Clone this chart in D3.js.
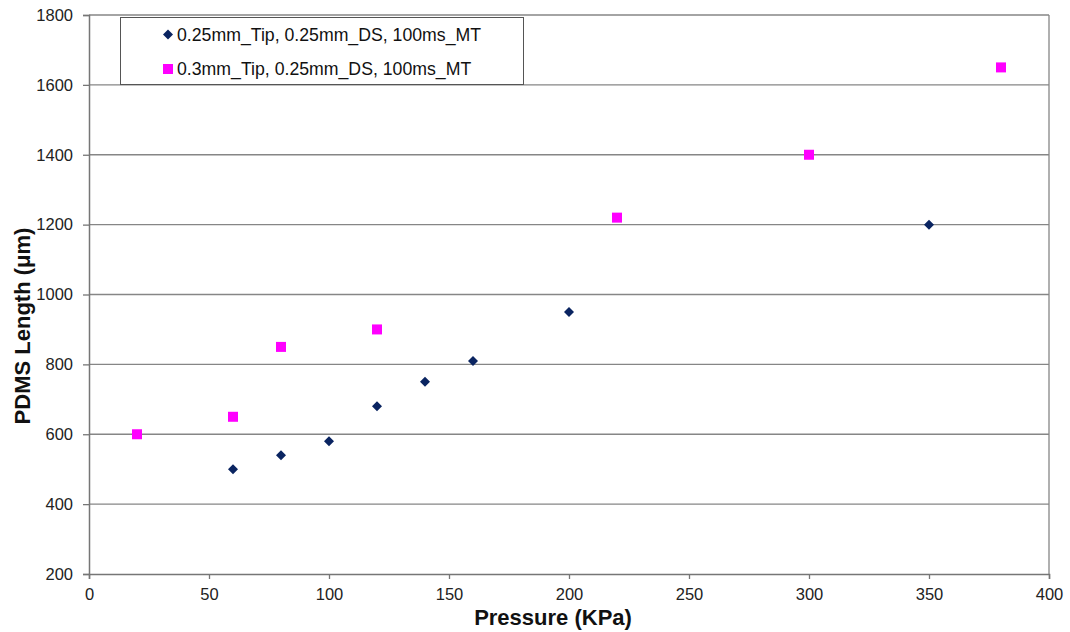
<!DOCTYPE html>
<html><head><meta charset="utf-8">
<script src="https://d3js.org/d3.v7.min.js"></script>
<style>
body{margin:0;background:#fff;}
svg{display:block;font-family:"Liberation Sans",Arial,sans-serif;}
</style></head>
<body>
<script>
const seriesNames = ["0.25mm_Tip, 0.25mm_DS, 100ms_MT", "0.3mm_Tip, 0.25mm_DS, 100ms_MT"];
const s1x = [60, 80, 100, 120, 140, 160, 200, 350];
const s1y = [500, 540, 580, 680, 750, 810, 950, 1200];
const s2x = [20, 60, 80, 120, 220, 300, 380];
const s2y = [600, 650, 850, 900, 1220, 1400, 1650];
const xTicks = [0, 50, 100, 150, 200, 250, 300, 350, 400];
const yTicks = [200, 400, 600, 800, 1000, 1200, 1400, 1600, 1800];
const xTitle = "Pressure (KPa)";
const yTitle = "PDMS Length (\u03bcm)";

const W = 1070, H = 632;
const L = 89, R = 1049, T = 15, B = 574;
const svg = d3.select("body").append("svg").attr("width", W).attr("height", H);

const x = d3.scaleLinear().domain([0, 400]).range([L, R]);
const y = d3.scaleLinear().domain([200, 1800]).range([B, T]);

// gridlines
svg.append("g").selectAll("line").data(yTicks.filter(d => d > 200)).join("line")
  .attr("x1", L).attr("x2", R).attr("y1", d => y(d)).attr("y2", d => y(d))
  .attr("stroke", "#868686").attr("stroke-width", 1.3);

// right border
svg.append("line").attr("x1", R).attr("x2", R).attr("y1", T).attr("y2", B)
  .attr("stroke", "#868686").attr("stroke-width", 1.3);

// axes
const xAxis = svg.append("g").attr("transform", `translate(0,${B})`)
  .call(d3.axisBottom(x).tickValues(xTicks).tickSize(5).tickPadding(9).tickFormat(d3.format("d")));
const yAxis = svg.append("g").attr("transform", `translate(${L},0)`)
  .call(d3.axisLeft(y).tickValues(yTicks).tickSize(6).tickPadding(10).tickFormat(d3.format("d")));
[xAxis, yAxis].forEach(a => {
  a.select(".domain").attr("stroke", "#767676").attr("stroke-width", 1.5);
  a.selectAll(".tick line").attr("stroke", "#767676").attr("stroke-width", 1.3);
  a.selectAll(".tick text").attr("fill", "#222").style("font-size", "16.5px")
    .style("font-family", "'Liberation Sans',Arial,sans-serif");
});

// points
const d1 = s1x.map((v, i) => [v, s1y[i]]);
const d2 = s2x.map((v, i) => [v, s2y[i]]);
svg.append("g").selectAll("rect").data(d2).join("rect")
  .attr("x", d => x(d[0]) - 5).attr("y", d => y(d[1]) - 5)
  .attr("width", 10).attr("height", 10).attr("fill", "#ff00ff");
svg.append("g").selectAll("path").data(d1).join("path")
  .attr("transform", d => `translate(${x(d[0])},${y(d[1])})`)
  .attr("d", "M0,-5L5,0L0,5L-5,0Z").attr("fill", "#0a2461");

// titles
svg.append("text").attr("x", 553).attr("y", 625).attr("text-anchor", "middle")
  .style("font-size", "22px").style("font-weight", "bold").attr("fill", "#111").text(xTitle);
svg.append("text").attr("transform", "translate(30,326) rotate(-90)").attr("text-anchor", "middle")
  .style("font-size", "22px").style("font-weight", "bold").attr("fill", "#111").text(yTitle);

// legend
const lg = svg.append("g");
lg.append("rect").attr("x", 120.5).attr("y", 17.5).attr("width", 403).attr("height", 67)
  .attr("fill", "#fff").attr("stroke", "#555").attr("stroke-width", 1);
lg.append("path").attr("transform", "translate(168,34.5)").attr("d", "M0,-5L5,0L0,5L-5,0Z").attr("fill", "#0a2461");
lg.append("rect").attr("x", 163).attr("y", 64).attr("width", 10).attr("height", 10).attr("fill", "#ff00ff");
lg.append("text").attr("x", 177).attr("y", 40.5).style("font-size", "17.7px").attr("fill", "#111").text(seriesNames[0]);
lg.append("text").attr("x", 177).attr("y", 75).style("font-size", "17.7px").attr("fill", "#111").text(seriesNames[1]);
</script>
</body></html>
